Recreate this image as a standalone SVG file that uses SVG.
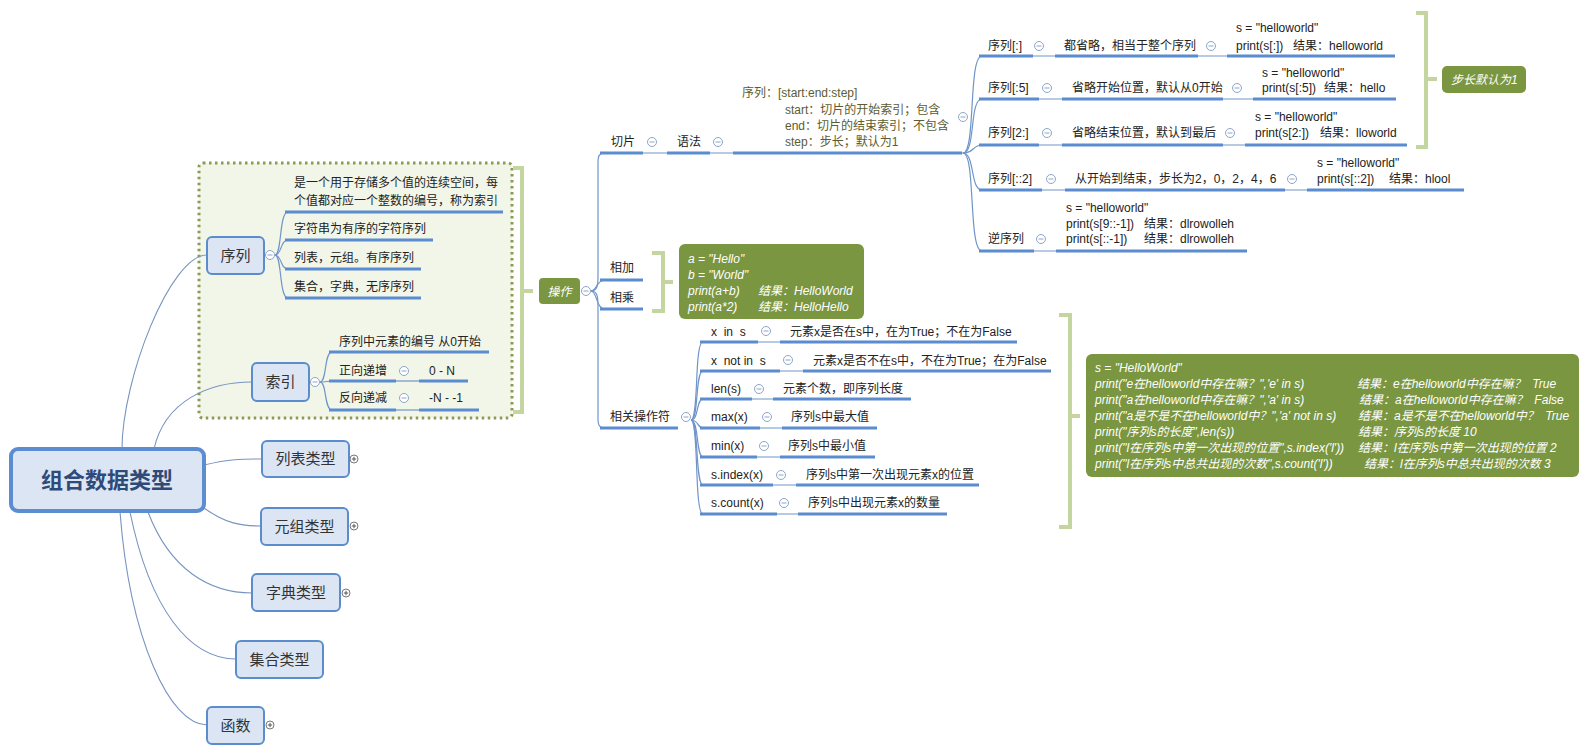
<svg xmlns="http://www.w3.org/2000/svg" xmlns:xlink="http://www.w3.org/1999/xlink" width="1593" height="752" viewBox="0 0 1593 752">
<style>
text{font-family:"Liberation Sans","Noto Sans CJK SC",sans-serif;font-size:12px;fill:#222;}
.t15{font-size:15px;fill:#333;text-anchor:middle;}
.root{font-size:22px;font-weight:bold;fill:#2e4a78;text-anchor:middle;}
.node{fill:#dbe5f3;stroke:#5b8dcc;stroke-width:2;}
.ul{stroke:#5b8ccf;stroke-width:3;fill:none;}
.thin{stroke:#6f95c8;stroke-width:1.2;fill:none;}
.rc{stroke:#7794be;stroke-width:1.1;fill:none;}
.br{stroke:#c5d5a0;stroke-width:4;fill:none;}
.gbox{fill:#7a9641;}
.wt{fill:#fff;font-style:italic;}
.syn{fill:#5c5c30;}
</style>
<defs>
<g id="minus"><circle r="4.5" fill="#fff" stroke="#8ea5c8" stroke-width="1"/><line x1="-2.5" y1="0" x2="2.5" y2="0" stroke="#8ea5c8" stroke-width="1"/></g>
<g id="plus"><circle r="4" fill="#fff" stroke="#777" stroke-width="1"/><line x1="-2.2" y1="0" x2="2.2" y2="0" stroke="#555" stroke-width="1"/><line x1="0" y1="-2.2" x2="0" y2="2.2" stroke="#555" stroke-width="1"/></g>
</defs>
<rect width="1593" height="752" fill="#fff"/>

<g id="boundary">
<rect x="199" y="163" width="313" height="255" rx="4" fill="#f2f6e9" stroke="#8b9b52" stroke-width="3" stroke-dasharray="2.5 3.5"/>
</g>

<g id="connectors">
<path class="rc" d="M122,449 C122,380 170,255 207,255"/>
<path class="rc" d="M154,449 C165,400 210,382 252,382"/>
<path class="rc" d="M204,465 C230,459 240,459 262,459"/>
<path class="rc" d="M204,508 C225,523 240,526 261,526"/>
<path class="rc" d="M148,512 C170,570 210,593 252,593"/>
<path class="rc" d="M130,512 C150,610 190,659 236,659"/>
<path class="rc" d="M120,512 C130,640 170,725 207,725"/>
<path class="thin" d="M275,255 C282,255 279,212 288,212"/>
<path class="thin" d="M275,255 C282,255 280,240 288,240"/>
<path class="thin" d="M275,255 C282,255 280,269 288,269"/>
<path class="thin" d="M275,255 C282,255 279,298 288,298"/>
<path class="thin" d="M320,382 C327,382 324,352 332,352"/>
<path class="thin" d="M320,382 C327,382 326,381 332,381"/>
<path class="thin" d="M320,382 C327,382 324,410 332,410"/>
<line class="thin" x1="396" y1="381" x2="419" y2="381"/>
<line class="thin" x1="396" y1="410" x2="419" y2="410"/>
<path class="thin" d="M591,291 C597,291 598,286 598,276 L598,163 C598,156 599,153 605,153"/>
<path class="thin" d="M591,291 C597,291 598,296 598,306 L598,419 C598,425 599,428 605,428"/>
<path class="thin" d="M591,291 C597,291 596,280 605,280"/>
<path class="thin" d="M591,291 C597,291 596,309 605,309"/>
<line class="thin" x1="600" y1="153" x2="965" y2="153"/>
<path class="thin" d="M963,153 C976,153 968,56 982,56"/>
<path class="thin" d="M963,153 C976,153 969,99 982,99"/>
<path class="thin" d="M963,153 C975,153 972,145 982,145"/>
<path class="thin" d="M963,153 C975,153 970,190 982,190"/>
<path class="thin" d="M963,153 C976,153 968,251 982,251"/>
<line class="thin" x1="979" y1="56" x2="1395" y2="56"/>
<line class="thin" x1="979" y1="99" x2="1396" y2="99"/>
<line class="thin" x1="979" y1="145" x2="1407" y2="145"/>
<line class="thin" x1="979" y1="190" x2="1464" y2="190"/>
<line class="thin" x1="979" y1="251" x2="1247" y2="251"/>
<path class="thin" d="M691,420 C699,420 694,342 703,342"/>
<path class="thin" d="M691,420 C699,420 695,371 703,371"/>
<path class="thin" d="M691,420 C699,420 696,399 703,399"/>
<path class="thin" d="M691,420 C699,420 697,428 703,428"/>
<path class="thin" d="M691,420 C699,420 696,457 703,457"/>
<path class="thin" d="M691,420 C699,420 695,485 703,485"/>
<path class="thin" d="M691,420 C699,420 694,514 703,514"/>
<line class="thin" x1="700" y1="342" x2="1017" y2="342"/>
<line class="thin" x1="700" y1="371" x2="1051" y2="371"/>
<line class="thin" x1="700" y1="399" x2="911" y2="399"/>
<line class="thin" x1="700" y1="428" x2="877" y2="428"/>
<line class="thin" x1="700" y1="457" x2="875" y2="457"/>
<line class="thin" x1="700" y1="485" x2="979" y2="485"/>
<line class="thin" x1="700" y1="514" x2="947" y2="514"/>
<path class="br" d="M513,168 H522 V412 H513 M522,291 H533"/>
<path class="br" d="M652,253 H663 V311 H652 M663,282 H673"/>
<path class="br" d="M1416,13 H1426 V147 H1416 M1426,79 H1437"/>
<path class="br" d="M1059,315 H1070 V527 H1059 M1070,416 H1080"/>
</g>

<g id="root">
<rect x="11" y="449" width="193" height="62" rx="7" fill="#dbe5f4" stroke="#5b8dd0" stroke-width="4"/>
<text class="root" x="107" y="488">组合数据类型</text>
</g>

<g id="node-xulie">
<rect class="node" x="207" y="237" width="57" height="37" rx="5"/>
<text class="t15" x="235.5" y="261">序列</text>
<use xlink:href="#minus" x="270" y="255"/>
</g>
<g id="xulie-children">
<text x="294" y="187">是一个用于存储多个值的连续空间，每</text>
<text x="294" y="205">个值都对应一个整数的编号，称为索引</text>
<line class="ul" x1="285" y1="212" x2="503" y2="212"/>
<text x="294" y="233">字符串为有序的字符序列</text>
<line class="ul" x1="285" y1="240" x2="433" y2="240"/>
<text x="294" y="262">列表，元组。有序序列</text>
<line class="ul" x1="285" y1="269" x2="421" y2="269"/>
<text x="294" y="291">集合，字典，无序序列</text>
<line class="ul" x1="285" y1="298" x2="421" y2="298"/>
</g>

<g id="node-suoyin">
<rect class="node" x="252" y="363" width="57" height="38" rx="5"/>
<text class="t15" x="280.5" y="387">索引</text>
<use xlink:href="#minus" x="315" y="382"/>
</g>
<g id="suoyin-children">
<text x="339" y="346">序列中元素的编号 从0开始</text>
<line class="ul" x1="329" y1="352" x2="489" y2="352"/>
<text x="339" y="375">正向递增</text>
<line class="ul" x1="329" y1="381" x2="396" y2="381"/>
<use xlink:href="#minus" x="404" y="371"/>
<text x="429" y="375">0 - N</text>
<line class="ul" x1="419" y1="381" x2="468" y2="381"/>
<text x="339" y="402">反向递减</text>
<line class="ul" x1="329" y1="410" x2="396" y2="410"/>
<use xlink:href="#minus" x="404" y="398"/>
<text x="429" y="402" xml:space="preserve">-N - -1</text>
<line class="ul" x1="419" y1="410" x2="479" y2="410"/>
</g>

<g id="node-list">
<rect class="node" x="262" y="441" width="87" height="36" rx="5"/>
<text class="t15" x="305.5" y="464">列表类型</text>
<use xlink:href="#plus" x="354" y="459"/>
</g>
<g id="node-tuple">
<rect class="node" x="261" y="508" width="87" height="37" rx="5"/>
<text class="t15" x="304.5" y="532">元组类型</text>
<use xlink:href="#plus" x="354" y="526"/>
</g>
<g id="node-dict">
<rect class="node" x="252" y="574" width="88" height="37" rx="5"/>
<text class="t15" x="296" y="598">字典类型</text>
<use xlink:href="#plus" x="346" y="593"/>
</g>
<g id="node-set">
<rect class="node" x="236" y="641" width="87" height="37" rx="5"/>
<text class="t15" x="279.5" y="665">集合类型</text>
</g>
<g id="node-func">
<rect class="node" x="207" y="707" width="57" height="37" rx="5"/>
<text class="t15" x="235.5" y="731">函数</text>
<use xlink:href="#plus" x="270" y="725"/>
</g>

<g id="node-caozuo">
<rect class="gbox" x="539" y="278" width="41" height="26" rx="4"/>
<text class="wt" x="559.5" y="296" text-anchor="middle" font-size="13">操作</text>
<use xlink:href="#minus" x="586" y="291"/>
</g>

<g id="node-qiepian">
<text x="611" y="146">切片</text>
<line class="ul" x1="600" y1="153" x2="643" y2="153"/>
<use xlink:href="#minus" x="652" y="142"/>
</g>
<g id="node-yufa">
<text x="677" y="146">语法</text>
<line class="ul" x1="667" y1="153" x2="710" y2="153"/>
<use xlink:href="#minus" x="718" y="142"/>
</g>
<g id="node-syntax">
<text class="syn" x="742" y="97">序列：[start:end:step]</text>
<text class="syn" x="785" y="114">start：切片的开始索引；包含</text>
<text class="syn" x="785" y="130">end：切片的结束索引；不包含</text>
<text class="syn" x="785" y="146">step：步长；默认为1</text>
<line class="ul" x1="733" y1="153" x2="962" y2="153"/>
<use xlink:href="#minus" x="963" y="117"/>
</g>

<g id="slice-row1">
<text x="988" y="50">序列[:]</text>
<line class="ul" x1="979" y1="56" x2="1033" y2="56"/>
<use xlink:href="#minus" x="1039" y="46"/>
<text x="1064" y="50">都省略，相当于整个序列</text>
<line class="ul" x1="1055" y1="56" x2="1198" y2="56"/>
<use xlink:href="#minus" x="1211" y="46"/>
<text x="1236" y="32">s = "helloworld"</text>
<text x="1236" y="50">print(s[:])</text>
<text x="1293" y="50">结果：helloworld</text>
<line class="ul" x1="1227" y1="56" x2="1395" y2="56"/>
</g>
<g id="slice-row2">
<text x="988" y="92">序列[:5]</text>
<line class="ul" x1="979" y1="99" x2="1039" y2="99"/>
<use xlink:href="#minus" x="1047" y="88"/>
<text x="1072" y="92">省略开始位置，默认从0开始</text>
<line class="ul" x1="1062" y1="99" x2="1223" y2="99"/>
<use xlink:href="#minus" x="1237" y="88"/>
<text x="1262" y="77">s = "helloworld"</text>
<text x="1262" y="92">print(s[:5])</text>
<text x="1324" y="92">结果：hello</text>
<line class="ul" x1="1253" y1="99" x2="1396" y2="99"/>
</g>
<g id="slice-row3">
<text x="988" y="137">序列[2:]</text>
<line class="ul" x1="979" y1="145" x2="1039" y2="145"/>
<use xlink:href="#minus" x="1047" y="133"/>
<text x="1072" y="137">省略结束位置，默认到最后</text>
<line class="ul" x1="1062" y1="145" x2="1223" y2="145"/>
<use xlink:href="#minus" x="1230" y="133"/>
<text x="1255" y="121">s = "helloworld"</text>
<text x="1255" y="137">print(s[2:])</text>
<text x="1320" y="137">结果：lloworld</text>
<line class="ul" x1="1245" y1="145" x2="1407" y2="145"/>
</g>
<g id="slice-row4">
<text x="988" y="183">序列[::2]</text>
<line class="ul" x1="979" y1="190" x2="1042" y2="190"/>
<use xlink:href="#minus" x="1051" y="179"/>
<text x="1075" y="183">从开始到结束，步长为2，0，2，4，6</text>
<line class="ul" x1="1065" y1="190" x2="1285" y2="190"/>
<use xlink:href="#minus" x="1292" y="179"/>
<text x="1317" y="167">s = "helloworld"</text>
<text x="1317" y="183">print(s[::2])</text>
<text x="1389" y="183">结果：hlool</text>
<line class="ul" x1="1307" y1="190" x2="1464" y2="190"/>
</g>
<g id="slice-row5">
<text x="988" y="243">逆序列</text>
<line class="ul" x1="979" y1="251" x2="1034" y2="251"/>
<use xlink:href="#minus" x="1041" y="239"/>
<text x="1066" y="212">s = "helloworld"</text>
<text x="1066" y="228">print(s[9::-1])</text>
<text x="1144" y="228">结果：dlrowolleh</text>
<text x="1066" y="243">print(s[::-1])</text>
<text x="1144" y="243">结果：dlrowolleh</text>
<line class="ul" x1="1056" y1="251" x2="1247" y2="251"/>
</g>

<g id="note-step">
<rect class="gbox" x="1442" y="66" width="84" height="27" rx="5"/>
<text class="wt" x="1451" y="84" font-size="13">步长默认为1</text>
</g>

<g id="node-add">
<text x="610" y="272">相加</text>
<line class="ul" x1="600" y1="280" x2="643" y2="280"/>
</g>
<g id="node-mul">
<text x="610" y="302">相乘</text>
<line class="ul" x1="600" y1="309" x2="643" y2="309"/>
</g>
<g id="note-addmul">
<rect class="gbox" x="679" y="244" width="185" height="75" rx="6"/>
<text class="wt" x="688" y="263">a = "Hello"</text>
<text class="wt" x="688" y="279">b = "World"</text>
<text class="wt" x="688" y="295">print(a+b)</text>
<text class="wt" x="758" y="295">结果：HelloWorld</text>
<text class="wt" x="688" y="311">print(a*2)</text>
<text class="wt" x="758" y="311">结果：HelloHello</text>
</g>

<g id="node-ops">
<text x="610" y="421">相关操作符</text>
<line class="ul" x1="600" y1="428" x2="678" y2="428"/>
<use xlink:href="#minus" x="686" y="417"/>
</g>
<g id="ops-children">
<text x="711" y="336" xml:space="preserve">x  in  s</text>
<line class="ul" x1="700" y1="342" x2="758" y2="342"/>
<use xlink:href="#minus" x="766" y="331"/>
<text x="790" y="336">元素x是否在s中，在为True；不在为False</text>
<line class="ul" x1="780" y1="342" x2="1017" y2="342"/>

<text x="711" y="365" xml:space="preserve">x  not in  s</text>
<line class="ul" x1="700" y1="371" x2="780" y2="371"/>
<use xlink:href="#minus" x="788" y="360"/>
<text x="813" y="365">元素x是否不在s中，不在为True；在为False</text>
<line class="ul" x1="803" y1="371" x2="1051" y2="371"/>

<text x="711" y="393">len(s)</text>
<line class="ul" x1="700" y1="399" x2="752" y2="399"/>
<use xlink:href="#minus" x="759" y="389"/>
<text x="783" y="393">元素个数，即序列长度</text>
<line class="ul" x1="773" y1="399" x2="911" y2="399"/>

<text x="711" y="421">max(x)</text>
<line class="ul" x1="700" y1="428" x2="760" y2="428"/>
<use xlink:href="#minus" x="767" y="417"/>
<text x="791" y="421">序列s中最大值</text>
<line class="ul" x1="782" y1="428" x2="877" y2="428"/>

<text x="711" y="450">min(x)</text>
<line class="ul" x1="700" y1="457" x2="757" y2="457"/>
<use xlink:href="#minus" x="764" y="446"/>
<text x="788" y="450">序列s中最小值</text>
<line class="ul" x1="780" y1="457" x2="875" y2="457"/>

<text x="711" y="479">s.index(x)</text>
<line class="ul" x1="700" y1="485" x2="773" y2="485"/>
<use xlink:href="#minus" x="781" y="475"/>
<text x="806" y="479">序列s中第一次出现元素x的位置</text>
<line class="ul" x1="796" y1="485" x2="979" y2="485"/>

<text x="711" y="507">s.count(x)</text>
<line class="ul" x1="700" y1="514" x2="777" y2="514"/>
<use xlink:href="#minus" x="784" y="503"/>
<text x="808" y="507">序列s中出现元素x的数量</text>
<line class="ul" x1="798" y1="514" x2="947" y2="514"/>
</g>

<g id="note-ops">
<rect class="gbox" x="1086" y="354" width="493" height="123" rx="6"/>
<text class="wt" x="1095" y="372">s = "HelloWorld"</text>
<text class="wt" x="1095" y="388">print("e在helloworld中存在嘛？",'e' in s)</text>
<text class="wt" x="1357" y="388" xml:space="preserve">结果：e在helloworld中存在嘛？  True</text>
<text class="wt" x="1095" y="404">print("a在helloworld中存在嘛？",'a' in s)</text>
<text class="wt" x="1359" y="404" xml:space="preserve">结果：a在helloworld中存在嘛？  False</text>
<text class="wt" x="1095" y="420">print("a是不是不在helloworld中？",'a' not in s)</text>
<text class="wt" x="1358" y="420" xml:space="preserve">结果：a是不是不在helloworld中？  True</text>
<text class="wt" x="1095" y="436">print("序列s的长度",len(s))</text>
<text class="wt" x="1358" y="436">结果：序列s的长度 10</text>
<text class="wt" x="1095" y="452">print("l在序列s中第一次出现的位置",s.index('l'))</text>
<text class="wt" x="1358" y="452">结果：l在序列s中第一次出现的位置 2</text>
<text class="wt" x="1095" y="468">print("l在序列s中总共出现的次数",s.count('l'))</text>
<text class="wt" x="1364" y="468">结果：l在序列s中总共出现的次数 3</text>
</g>
</svg>
